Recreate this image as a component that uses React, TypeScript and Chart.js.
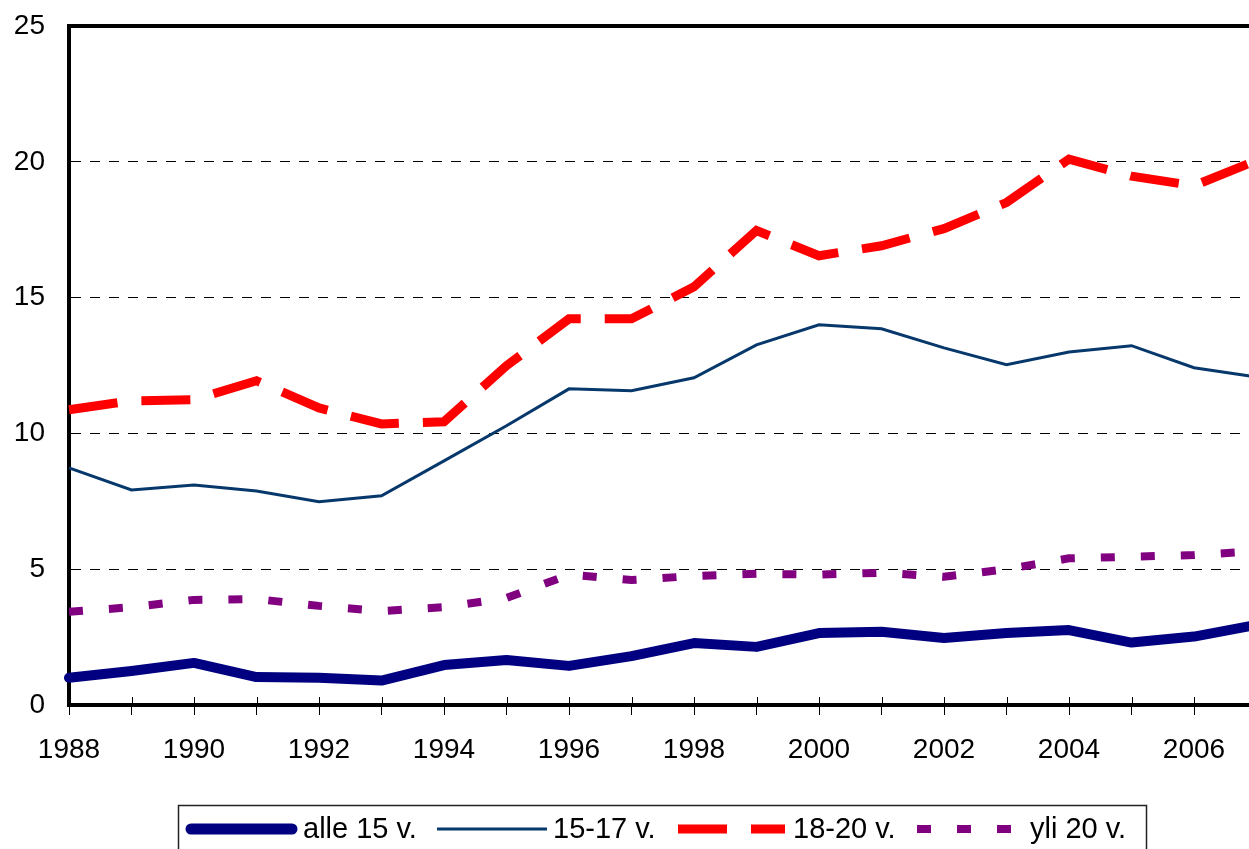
import React, { useEffect, useRef } from "react";
import { Chart, registerables } from "chart.js";

Chart.register(...registerables);

const years = ["1988","1989","1990","1991","1992","1993","1994","1995","1996","1997","1998","1999","2000","2001","2002","2003","2004","2005","2006","2007"];
const alle15 = [1.0,1.25,1.55,1.03,1.0,0.9,1.47,1.66,1.44,1.8,2.28,2.14,2.65,2.7,2.47,2.65,2.76,2.3,2.52,2.95];
const v15_17 = [8.73,7.92,8.1,7.88,7.48,7.7,8.99,10.28,11.64,11.57,12.05,13.26,14.0,13.85,13.15,12.53,13.0,13.23,12.42,12.08];
const v18_20 = [10.87,11.2,11.24,11.94,10.94,10.35,10.43,12.49,14.22,14.22,15.4,17.47,16.54,16.91,17.54,18.5,20.1,19.47,19.12,20.05];
const yli20 = [3.43,3.6,3.87,3.9,3.65,3.46,3.6,3.94,4.8,4.6,4.75,4.83,4.8,4.87,4.72,5.0,5.4,5.46,5.52,5.66];
const seriesLabels = ["alle 15 v.", "15-17 v.", "18-20 v.", "yli 20 v."];

const FONT = '"Liberation Sans", Arial, sans-serif';
const W = 1324;
const H = 870;

const framePlugin = {
  id: "frame",
  afterDraw(chart: any) {
    const { ctx, chartArea } = chart;
    const xs = chart.scales.x;
    ctx.save();
    ctx.strokeStyle = "#000";
    ctx.lineWidth = 4;
    ctx.beginPath();
    ctx.moveTo(chartArea.left - 2, chartArea.top);
    ctx.lineTo(chartArea.right, chartArea.top);
    ctx.stroke();
    ctx.lineWidth = 1;
    for (let i = 0; i < years.length; i++) {
      const px = Math.round(xs.getPixelForValue(i)) + 0.5;
      ctx.beginPath();
      ctx.moveTo(px, chartArea.bottom - 8);
      ctx.lineTo(px, chartArea.bottom);
      ctx.stroke();
    }
    const box = { x: 178.5, y: 805.5, w: 968, h: 50 };
    ctx.strokeStyle = "#222";
    ctx.lineWidth = 1.5;
    ctx.strokeRect(box.x, box.y, box.w, box.h);
    const samples = [[191, 292], [437, 547], [678, 785], [917, 1013]];
    const textX = [303, 553, 793, 1030];
    const cy = 829;
    chart.data.datasets.forEach((ds: any, i: number) => {
      ctx.save();
      ctx.strokeStyle = ds.borderColor;
      ctx.lineWidth = ds.legendWidth || ds.borderWidth;
      ctx.lineCap = ds.borderCapStyle || "butt";
      ctx.setLineDash(ds.borderDash || []);
      ctx.beginPath();
      ctx.moveTo(samples[i][0], cy);
      ctx.lineTo(samples[i][1], cy);
      ctx.stroke();
      ctx.restore();
      ctx.fillStyle = "#000";
      ctx.font = `29px ${FONT}`;
      ctx.textBaseline = "middle";
      ctx.textAlign = "left";
      ctx.fillText(ds.label, textX[i], cy + 1);
    });
    ctx.restore();
  },
};

export default function App() {
  const ref = useRef<HTMLCanvasElement | null>(null);
  useEffect(() => {
    if (!ref.current) return;
    const chart = new Chart(ref.current, {
      type: "line",
      data: {
        labels: years,
        datasets: [
          {
            label: seriesLabels[0],
            data: alle15,
            borderColor: "#000080",
            borderWidth: 10,
            legendWidth: 11,
            borderCapStyle: "round",
            borderJoinStyle: "round",
            pointRadius: 0,
            tension: 0,
          } as any,
          {
            label: seriesLabels[1],
            data: v15_17,
            borderColor: "#07386b",
            borderWidth: 3,
            pointRadius: 0,
            tension: 0,
          },
          {
            label: seriesLabels[2],
            data: v18_20,
            borderColor: "#ff0000",
            borderWidth: 9,
            borderDash: [49, 24],
            pointRadius: 0,
            tension: 0,
          },
          {
            label: seriesLabels[3],
            data: yli20,
            borderColor: "#800080",
            borderWidth: 8,
            borderDash: [14, 26],
            pointRadius: 0,
            tension: 0,
          },
        ],
      },
      options: {
        responsive: false,
        animation: false,
        layout: { padding: { top: 26, left: 0, right: 67.5, bottom: 0 } },
        plugins: { legend: { display: false }, tooltip: { enabled: false } },
        scales: {
          x: {
            type: "category",
            offset: false,
            afterFit: (s: any) => { s.height = H - 705; },
            grid: {
              display: true,
              drawOnChartArea: false,
              drawTicks: true,
              tickLength: 10,
              tickColor: "#000",
              tickWidth: 1,
              offset: false,
            },
            border: { display: true, color: "#000", width: 4 },
            ticks: {
              autoSkip: false,
              maxRotation: 0,
              padding: 18,
              color: "#000",
              font: { family: FONT, size: 28 },
              callback: (_v: any, i: number) => (Number(years[i]) % 2 === 0 ? years[i] : ""),
            },
          },
          y: {
            min: 0,
            max: 25,
            afterFit: (s: any) => {
              s.width = 69;
              s.paddingTop = 10;
              s.paddingBottom = 10;
            },
            grid: {
              display: true,
              drawTicks: false,
              color: "#000",
              lineWidth: 1,
            },
            border: { display: true, color: "#000", width: 4, dash: [10, 9] },
            ticks: {
              stepSize: 5,
              padding: 24,
              color: "#000",
              font: { family: FONT, size: 28 },
            },
          },
        },
      },
      plugins: [framePlugin],
    } as any);
    return () => chart.destroy();
  }, []);

  return (
    <div style={{ position: "absolute", left: 0, top: 0, width: 1249, height: 849, overflow: "hidden", background: "#fff" }}>
      <canvas ref={ref} width={W} height={H} style={{ width: W, height: H, display: "block" }} />
    </div>
  );
}
